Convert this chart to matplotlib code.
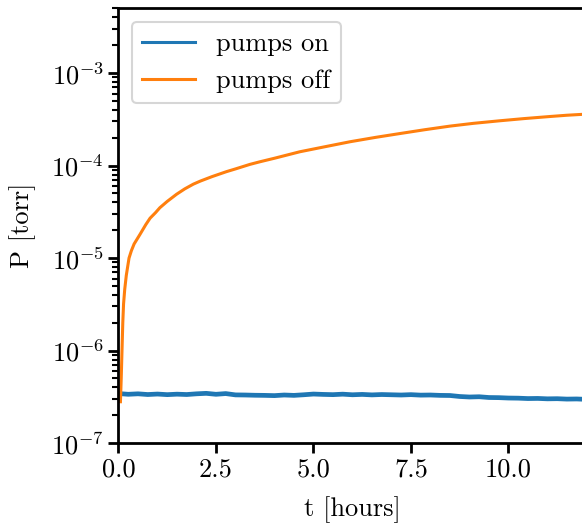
import numpy as np
import matplotlib
matplotlib.use('Agg')
import matplotlib.pyplot as plt

plt.rcParams['font.family'] = 'serif'
plt.rcParams['font.serif'] = ['cmr10']
plt.rcParams['mathtext.fontset'] = 'cm'
plt.rcParams['axes.formatter.use_mathtext'] = True
plt.rcParams['font.size'] = 19

# pressure with the pumps running (torr)
t_on = [0.05, 0.25, 0.5, 0.75, 1.0, 1.25, 1.5, 1.75, 2.0, 2.25, 2.5, 2.75,
        3.0, 3.25, 3.5, 3.75, 4.0, 4.25, 4.5, 4.75, 5.0, 5.25, 5.5, 5.75,
        6.0, 6.25, 6.5, 6.75, 7.0, 7.25, 7.5, 7.75, 8.0, 8.25, 8.5, 8.75,
        9.0, 9.25, 9.5, 9.75, 10.0, 10.25, 10.5, 10.75, 11.0, 11.25, 11.5,
        11.75, 12.0]
p_on = [3.42, 3.37, 3.41, 3.35, 3.39, 3.34, 3.38, 3.35, 3.41, 3.45, 3.37,
        3.43, 3.32, 3.31, 3.29, 3.28, 3.26, 3.31, 3.28, 3.33, 3.39, 3.36,
        3.34, 3.38, 3.33, 3.36, 3.32, 3.35, 3.33, 3.31, 3.34, 3.30, 3.31,
        3.28, 3.27, 3.19, 3.15, 3.17, 3.11, 3.10, 3.07, 3.06, 3.03, 3.04,
        3.01, 3.02, 2.99, 3.00, 2.97]
p_on = [v * 1e-7 for v in p_on]

# pressure after the pumps were switched off (torr)
t_off = [0.05, 0.07, 0.09, 0.11, 0.13, 0.16, 0.2, 0.27, 0.33, 0.4, 0.55,
         0.7, 0.81, 0.95, 1.06, 1.25, 1.49, 1.7, 1.92, 2.1, 2.4, 2.77, 3.0,
         3.37, 3.63, 4.0, 4.65, 5.3, 5.94, 6.6, 7.22, 7.85, 8.5, 9.1, 9.78,
         10.4, 11.06, 11.5, 12.0]
p_off = [2.8e-7, 5.0e-7, 1.0e-6, 2.0e-6, 3.2e-6, 4.6e-6, 6.5e-6, 1.0e-5,
         1.2e-5, 1.42e-5, 1.8e-5, 2.3e-5, 2.7e-5, 3.1e-5, 3.5e-5, 4.1e-5,
         4.9e-5, 5.6e-5, 6.3e-5, 6.8e-5, 7.6e-5, 8.6e-5, 9.2e-5, 1.03e-4,
         1.10e-4, 1.2e-4, 1.41e-4, 1.6e-4, 1.81e-4, 2.02e-4, 2.22e-4,
         2.44e-4, 2.67e-4, 2.86e-4, 3.05e-4, 3.22e-4, 3.39e-4, 3.5e-4, 3.6e-4]

fig = plt.figure(figsize=(5.82, 5.25), dpi=100)
ax = fig.add_axes([0.2036, 0.156, 0.804, 0.828])

ax.plot(t_on, p_on, color='#1f77b4', lw=3.4, label='pumps on')
ax.plot(t_off, p_off, color='#ff7f0e', lw=2.2, label='pumps off')

ax.set_yscale('log')
ax.set_xlim(0, 12)
ax.set_ylim(1e-7, 5e-3)
ax.set_xticks([0, 2.5, 5, 7.5, 10])
ax.set_xticklabels(['0.0', '2.5', '5.0', '7.5', '10.0'])
ax.set_xlabel('t [hours]', labelpad=11)
ax.set_ylabel('P [torr]', labelpad=11)

for s in ax.spines.values():
    s.set_linewidth(2.0)
ax.tick_params(which='major', width=2.0, length=7)
ax.tick_params(which='minor', width=1.5, length=4)

leg = ax.legend(loc='upper left', fancybox=True, framealpha=0.8)
leg.get_frame().set_linewidth(1.5)
for l in leg.get_lines():
    l.set_linewidth(2.2)

fig.savefig('out.png', dpi=100)
